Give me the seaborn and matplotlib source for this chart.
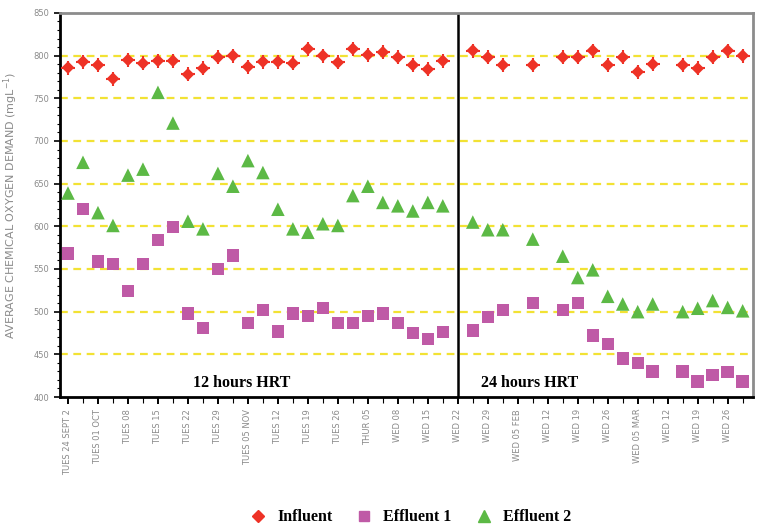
import numpy as np
import pandas as pd
import matplotlib
matplotlib.use("Agg")
import matplotlib.pyplot as plt
from matplotlib.ticker import MultipleLocator, FixedLocator
import seaborn as sns

# Sampling positions (twice weekly); gaps are missed samples
sample_idx = list(range(0, 26)) + [27, 28, 29, 31, 33, 34, 35, 36, 37, 38, 39, 41, 42, 43, 44, 45]

influent = [786, 793, 789, 773, 795, 791, 794, 794, 778, 785, 798, 800, 787, 793, 793, 791,
            808, 800, 792, 808, 801, 804, 798, 789, 784, 794,
            806, 798, 789, 789, 798, 798, 806, 789, 798, 781, 790, 789, 785, 798, 806, 800]
effluent1 = [568, 620, 559, 556, 524, 556, 584, 599, 498, 481, 550, 566, 487, 502, 477, 498,
             495, 504, 487, 487, 495, 498, 487, 475, 468, 476,
             478, 494, 502, 510, 502, 510, 472, 462, 445, 440, 430, 430, 418, 426, 429, 418]
effluent2 = [639, 675, 616, 601, 660, 667, 757, 721, 606, 597, 662, 647, 677, 663, 620, 597,
             593, 603, 601, 636, 647, 628, 624, 618, 628, 624,
             605, 596, 596, 585, 565, 540, 549, 518, 509, 500, 509, 500, 504, 513, 505, 501]

tick_pos = list(range(0, 45, 2))
tick_labels = ["TUES 24 SEPT 2", "TUES 01 OCT", "TUES 08", "TUES 15", "TUES 22", "TUES 29",
               "TUES 05 NOV", "TUES 12", "TUES 19", "TUES 26", "THUR 05", "WED 08", "WED 15",
               "WED 22", "WED 29", "WED 05 FEB", "WED 12", "WED 19", "WED 26", "WED 05 MAR",
               "WED 12", "WED 19", "WED 26"]

series_names = ["Influent", "Effluent 1", "Effluent 2"]
colors = {"Influent": "#ee3226", "Effluent 1": "#bf5aa6", "Effluent 2": "#5cb945"}
markers = {"Influent": "D", "Effluent 1": "s", "Effluent 2": "^"}
sizes = {"Influent": 42, "Effluent 1": 80, "Effluent 2": 95}

df = pd.DataFrame({
    "idx": sample_idx * 3,
    "cod": influent + effluent1 + effluent2,
    "series": ["Influent"] * len(influent) + ["Effluent 1"] * len(effluent1) + ["Effluent 2"] * len(effluent2),
})

fig = plt.figure(figsize=(7.6, 5.29), dpi=100)
ax = fig.add_axes([0.079, 0.2495, 0.912, 0.726])

for name in series_names:
    sub = df[df["series"] == name]
    sns.scatterplot(data=sub, x="idx", y="cod", ax=ax, color=colors[name],
                    marker=markers[name], s=sizes[name], edgecolor="none",
                    zorder=3, label=name, legend=False)
    if name == "Influent":
        # small spikes around the diamonds
        ax.scatter(sub["idx"], sub["cod"], marker="+", s=110, color=colors[name],
                   linewidths=1.5, zorder=3)

ax.set_xlim(-0.53, 45.7)
ax.set_ylim(400, 850)

ax.yaxis.set_major_locator(MultipleLocator(50))
ax.yaxis.set_minor_locator(MultipleLocator(10))
ax.xaxis.set_major_locator(FixedLocator(tick_pos))
ax.xaxis.set_minor_locator(MultipleLocator(1))
ax.set_xticklabels(tick_labels, rotation=90, fontsize=6, color="#8a8a8a", va="top")
ax.tick_params(axis="y", labelsize=6, labelcolor="#8a8a8a", length=4, width=1.2)
ax.tick_params(axis="y", which="minor", length=2.5, width=0.8)
ax.tick_params(axis="x", length=5, width=1.4)
ax.tick_params(axis="x", which="minor", length=4, width=0.8)

ax.set_ylabel("AVERAGE CHEMICAL OXYGEN DEMAND (mgL$^{-1}$)", fontsize=8, color="#8a8a8a", labelpad=10)
ax.set_xlabel("")

# dashed yellow reference lines
for v in range(450, 850, 50):
    ax.axhline(v, color="#f2e234", linestyle=(0, (3.5, 2.5)), linewidth=1.6, zorder=1)

# boundary between the two retention times
ax.axvline(26, color="black", linewidth=1.8, zorder=2)

for side in ["left", "bottom"]:
    ax.spines[side].set_color("black")
    ax.spines[side].set_linewidth(2)
for side in ["top", "right"]:
    ax.spines[side].set_color("#8c8c8c")
    ax.spines[side].set_linewidth(2)

ax.text(11.6, 417, "12 hours HRT", ha="center", va="center", fontsize=11.5,
        fontweight="bold", family="Liberation Serif")
ax.text(30.8, 417, "24 hours HRT", ha="center", va="center", fontsize=11.5,
        fontweight="bold", family="Liberation Serif")

handles = [
    plt.Line2D([], [], marker="D", color=colors["Influent"], linestyle="none", markersize=6),
    plt.Line2D([], [], marker="s", color=colors["Effluent 1"], linestyle="none", markersize=7),
    plt.Line2D([], [], marker="^", color=colors["Effluent 2"], linestyle="none", markersize=8),
]
fig.legend(handles, series_names, loc="center", bbox_to_anchor=(0.535, 0.022), ncol=3,
           frameon=False, handletextpad=0.2, columnspacing=1.0,
           prop={"family": "Liberation Serif", "weight": "bold", "size": 11.5})

fig.savefig("out.png", dpi=100)
